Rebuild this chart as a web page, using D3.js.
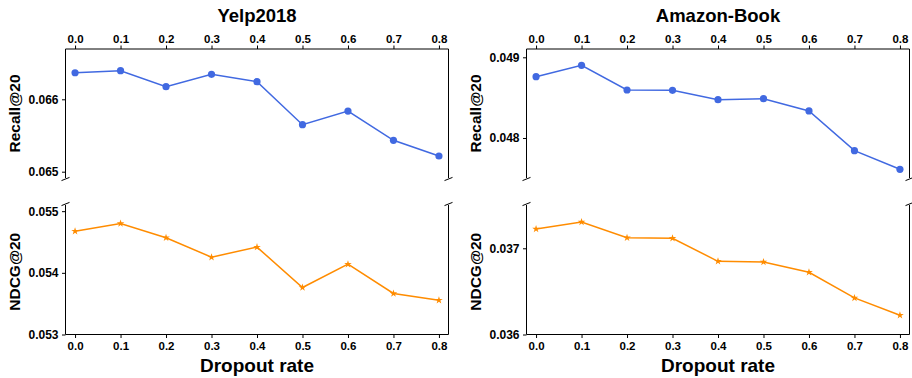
<!DOCTYPE html>
<html>
<head>
<meta charset="utf-8">
<script src="https://cdn.jsdelivr.net/npm/d3@7/dist/d3.min.js"></script>
<style>
  html, body { margin: 0; padding: 0; background: #fff; }
  svg { display: block; }
  text { font-family: "Liberation Sans", Arial, sans-serif; font-weight: bold; fill: #000; }
</style>
</head>
<body>
<svg id="chart" width="912" height="378"></svg>
<script>
// Dropout rates on the shared x axis
const dropoutRates = [0.0, 0.1, 0.2, 0.3, 0.4, 0.5, 0.6, 0.7, 0.8];
const rateTickLabels = ["0.0", "0.1", "0.2", "0.3", "0.4", "0.5", "0.6", "0.7", "0.8"];

// Yelp2018
const yelpRecall = [0.066367, 0.066395, 0.066174, 0.066345, 0.066243, 0.065649, 0.065838, 0.065434, 0.065217];
const yelpNdcg   = [0.054676, 0.054800, 0.054568, 0.054254, 0.054417, 0.053762, 0.054141, 0.053666, 0.053557];

// Amazon-Book
const bookRecall = [0.048760, 0.048901, 0.048595, 0.048591, 0.048475, 0.048487, 0.048335, 0.047843, 0.047612];
const bookNdcg   = [0.037224, 0.037305, 0.037123, 0.037116, 0.036849, 0.036841, 0.036722, 0.036424, 0.036224];

// Y tick values per panel
const yelpRecallTicks = [0.065, 0.066];
const yelpNdcgTicks   = [0.053, 0.054, 0.055];
const bookRecallTicks = [0.048, 0.049];
const bookNdcgTicks   = [0.036, 0.037];

const titles = ["Yelp2018", "Amazon-Book"];
const recallLabel = "Recall@20";
const ndcgLabel = "NDCG@20";
const xLabel = "Dropout rate";

const svg = d3.select("#chart");
const BLUE = "#4169E1", ORANGE = "#FF8C00";

const colLeft = [65.5, 526.5];
const colWidth = 383;
const topRow = { y0: 49, y1: 178 };
const botRow = { y0: 205, y1: 334.5 };

const columns = [
  { title: titles[0], recall: yelpRecall, ndcg: yelpNdcg,
    rDomain: [0.064913, 0.066695], nDomain: [0.053, 0.0551],
    rTicks: yelpRecallTicks, nTicks: yelpNdcgTicks, labelX: 14 },
  { title: titles[1], recall: bookRecall, ndcg: bookNdcg,
    rDomain: [0.047504, 0.049103], nDomain: [0.036, 0.037502],
    rTicks: bookRecallTicks, nTicks: bookNdcgTicks, labelX: 475 }
];

const fmt = d3.format(".3f");

function breakMark(g, x, y) {
  g.append("line")
    .attr("x1", x - 4).attr("y1", y + 1.6)
    .attr("x2", x + 4).attr("y2", y - 1.6)
    .attr("stroke", "#000").attr("stroke-width", 1);
}

function styleAxis(g, fontSize) {
  g.selectAll(".domain").remove();
  g.selectAll(".tick line").attr("stroke", "#000").attr("stroke-width", 1);
  g.selectAll(".tick text")
    .style("font-family", '"Liberation Sans", Arial, sans-serif')
    .style("font-weight", "bold")
    .style("font-size", fontSize + "px")
    .attr("fill", "#000");
}

columns.forEach((c, i) => {
  const left = colLeft[i], right = left + colWidth;
  const x = d3.scaleLinear().domain([-0.021, 0.821]).range([left, right]);
  const yR = d3.scaleLinear().domain(c.rDomain).range([topRow.y1, topRow.y0]);
  const yN = d3.scaleLinear().domain(c.nDomain).range([botRow.y1, botRow.y0]);

  const g = svg.append("g");

  // Title
  g.append("text")
    .attr("x", (left + right) / 2).attr("y", 22)
    .attr("text-anchor", "middle")
    .style("font-size", "18.5px")
    .text(c.title);

  // Top x axis (on the recall panel)
  const xTop = g.append("g").attr("transform", `translate(0,${topRow.y0})`)
    .call(d3.axisTop(x).tickValues(dropoutRates)
      .tickFormat((d, k) => rateTickLabels[k]).tickSizeInner(3.5).tickPadding(3));
  styleAxis(xTop, 11.5);

  // Bottom x axis (on the ndcg panel)
  const xBot = g.append("g").attr("transform", `translate(0,${botRow.y1})`)
    .call(d3.axisBottom(x).tickValues(dropoutRates)
      .tickFormat((d, k) => rateTickLabels[k]).tickSizeInner(3.5).tickPadding(4));
  styleAxis(xBot, 11.5);

  // Y axes
  const yAxR = g.append("g").attr("transform", `translate(${left},0)`)
    .call(d3.axisLeft(yR).tickValues(c.rTicks).tickFormat(fmt).tickSizeInner(3.5).tickPadding(3.5));
  styleAxis(yAxR, 12);
  const yAxN = g.append("g").attr("transform", `translate(${left},0)`)
    .call(d3.axisLeft(yN).tickValues(c.nTicks).tickFormat(fmt).tickSizeInner(3.5).tickPadding(3.5));
  styleAxis(yAxN, 12);

  // Spines: top panel open at the bottom, bottom panel open at the top
  g.append("path")
    .attr("d", `M${left},${topRow.y1}V${topRow.y0}H${right}V${topRow.y1}`)
    .attr("fill", "none").attr("stroke", "#000").attr("stroke-width", 1);
  g.append("path")
    .attr("d", `M${left},${botRow.y0}V${botRow.y1}H${right}V${botRow.y0}`)
    .attr("fill", "none").attr("stroke", "#000").attr("stroke-width", 1);

  // Axis-break marks
  [left, right].forEach(sx => {
    breakMark(g, sx, topRow.y1 + 1);
    breakMark(g, sx, botRow.y0 - 1);
  });

  // Y labels
  g.append("text")
    .attr("transform", `translate(${c.labelX + 5.5},${(topRow.y0 + topRow.y1) / 2}) rotate(-90)`)
    .attr("text-anchor", "middle")
    .style("font-size", "15.5px")
    .text(recallLabel);
  g.append("text")
    .attr("transform", `translate(${c.labelX + 5.5},${(botRow.y0 + botRow.y1) / 2 + 2}) rotate(-90)`)
    .attr("text-anchor", "middle")
    .style("font-size", "15.5px")
    .text(ndcgLabel);

  // X label
  g.append("text")
    .attr("x", (left + right) / 2).attr("y", 371.5)
    .attr("text-anchor", "middle")
    .style("font-size", "19px")
    .text(xLabel);

  // Recall line + circle markers
  const lineR = d3.line().x((d, k) => x(dropoutRates[k])).y(d => yR(d));
  g.append("path").datum(c.recall)
    .attr("d", lineR).attr("fill", "none")
    .attr("stroke", BLUE).attr("stroke-width", 1.5);
  g.selectAll(".dotR").data(c.recall).enter().append("circle")
    .attr("cx", (d, k) => x(dropoutRates[k])).attr("cy", d => yR(d))
    .attr("r", 3.6).attr("fill", BLUE);

  // NDCG line + star markers
  const lineN = d3.line().x((d, k) => x(dropoutRates[k])).y(d => yN(d));
  g.append("path").datum(c.ndcg)
    .attr("d", lineN).attr("fill", "none")
    .attr("stroke", ORANGE).attr("stroke-width", 1.5);
  const star = d3.symbol().type(d3.symbolStar).size(18);
  g.selectAll(".dotN").data(c.ndcg).enter().append("path")
    .attr("transform", (d, k) => `translate(${x(dropoutRates[k])},${yN(d)})`)
    .attr("d", star).attr("fill", ORANGE);
});
</script>
</body>
</html>
